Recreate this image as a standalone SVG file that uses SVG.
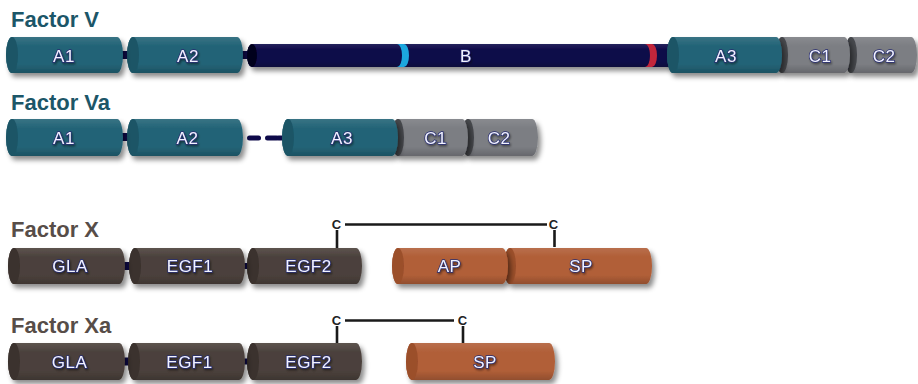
<svg xmlns="http://www.w3.org/2000/svg" width="918" height="384" viewBox="0 0 918 384">
  <defs>
    <filter id="drop" x="-10%" y="-30%" width="125%" height="170%">
      <feDropShadow dx="3" dy="4" stdDeviation="2.5" flood-color="#000" flood-opacity="0.45"/>
    </filter>
    <filter id="glow" x="-20%" y="-40%" width="140%" height="180%">
      <feDropShadow dx="1" dy="1.5" stdDeviation="1.2" flood-color="#000" flood-opacity="0.5"/>
    </filter>
    <linearGradient id="shade" x1="0" y1="0" x2="0" y2="1">
      <stop offset="0" stop-color="#fff" stop-opacity="0.10"/>
      <stop offset="0.25" stop-color="#fff" stop-opacity="0"/>
      <stop offset="0.75" stop-color="#000" stop-opacity="0"/>
      <stop offset="1" stop-color="#000" stop-opacity="0.18"/>
    </linearGradient>
  </defs>
  <style>
    .title { font-family: "Liberation Sans", Arial, sans-serif; font-weight: bold; font-size: 22px; }
    .tv { fill: #1c5668; }
    .tx { fill: #574d48; }
    .lbl { font-family: "Liberation Sans", Arial, sans-serif; font-size: 17px; letter-spacing: 0.5px; fill: #f2f3ff; stroke: #262c72; stroke-width: 1.4px; paint-order: stroke; text-anchor: middle; filter: url(#glow); }
    .cys { font-family: "Liberation Sans", Arial, sans-serif; font-weight: bold; font-size: 13px; fill: #222; text-anchor: middle; }
    .teal { fill: #236477; }
    .tealcap { fill: #1b5566; }
    .grey { fill: #7c7e83; }
    .greycap { fill: #46484d; }
    .brown { fill: #4b413c; }
    .browncap { fill: #3a312d; }
    .orange { fill: #b15f38; }
    .orangecap { fill: #9b4f2c; }
    .navy { fill: #0e0a4a; }
    .navycap { fill: #05031f; }
    .sh { fill: url(#shade); }
    .node { filter: url(#drop); }
    .bond { stroke: #1a1a1a; stroke-width: 2.6; fill: none; }
  </style>

  <!-- titles -->
  <text class="title tv" x="11" y="27">Factor V</text>
  <text class="title tv" x="11" y="110">Factor Va</text>
  <text class="title tx" x="11" y="237">Factor X</text>
  <text class="title tx" x="11" y="333">Factor Xa</text>

  <!-- linkers and disulfide bridges -->
  <g id="connectors">
    <rect class="navy" x="119" y="51" width="14" height="8" rx="3"/>
    <rect class="navy" x="240" y="51" width="10" height="8" rx="3"/>
    <rect class="navy" x="119" y="133" width="14" height="8" rx="3"/>
    <rect class="navy" x="247" y="135.5" width="14" height="5" rx="2.5"/>
    <rect class="navy" x="265" y="135.5" width="14" height="5" rx="2.5"/>
    <rect class="navy" x="276" y="135.5" width="8" height="5" rx="2.5"/>
    <rect class="navy" x="122" y="262" width="12" height="8" rx="3"/>
    <rect class="navy" x="242" y="263" width="8" height="6" rx="3"/>
    <rect class="navy" x="502" y="263" width="8" height="6" rx="3"/>
    <rect class="navy" x="122" y="357.5" width="12" height="8" rx="3"/>
    <rect class="navy" x="242" y="358.5" width="8" height="6" rx="3"/>
    <!-- Factor X bridge -->
    <path class="bond" d="M345 224.5 H547 M337 230 V248 M554.5 230 V247"/>
    <text class="cys" x="336.5" y="228.5">C</text>
    <text class="cys" x="553.5" y="228.5">C</text>
    <!-- Factor Xa bridge -->
    <path class="bond" d="M345 320.5 H454 M337 326 V343 M463 326 V343"/>
    <text class="cys" x="336.5" y="325">C</text>
    <text class="cys" x="462.5" y="325">C</text>
  </g>

  <!-- Factor V -->
  <g id="fv-B" class="node">
    <path class="navy" d="M252 44 H670 A5 11.5 0 0 1 670 67 H252 A5 11.5 0 0 1 252 44 Z"/>
    <path class="sh" d="M252 44 H670 A5 11.5 0 0 1 670 67 H252 A5 11.5 0 0 1 252 44 Z"/>
    <ellipse class="navycap" cx="252" cy="55.5" rx="5" ry="11.5"/>
    <path fill="#1fa7de" d="M397 44 H404 A5 11.5 0 0 1 404 67 H397 A5 11.5 0 0 0 397 44 Z"/>
    <path fill="#c2263a" d="M645 44 H652 A5 11.5 0 0 1 652 67 H645 A5 11.5 0 0 0 645 44 Z"/>
    <text class="lbl" x="466" y="62">B</text>
  </g>
  <g id="fv-C2" class="node">
    <path class="grey" d="M851 37 H911 A6 18 0 0 1 911 73 H851 A6 18 0 0 1 851 37 Z"/>
    <path class="sh" d="M851 37 H911 A6 18 0 0 1 911 73 H851 A6 18 0 0 1 851 37 Z"/>
    <ellipse class="greycap" cx="851" cy="55" rx="6" ry="18"/>
    <text class="lbl" x="884" y="62">C2</text>
  </g>
  <g id="fv-C1" class="node">
    <path class="grey" d="M782 37 H844 A6 18 0 0 1 844 73 H782 A6 18 0 0 1 782 37 Z"/>
    <path class="sh" d="M782 37 H844 A6 18 0 0 1 844 73 H782 A6 18 0 0 1 782 37 Z"/>
    <ellipse class="greycap" cx="782" cy="55" rx="6" ry="18"/>
    <text class="lbl" x="820" y="62">C1</text>
  </g>
  <g id="fv-A3" class="node">
    <path class="teal" d="M673 37 H776 A6 18 0 0 1 776 73 H673 A6 18 0 0 1 673 37 Z"/>
    <path class="sh" d="M673 37 H776 A6 18 0 0 1 776 73 H673 A6 18 0 0 1 673 37 Z"/>
    <ellipse class="tealcap" cx="673" cy="55" rx="6" ry="18"/>
    <text class="lbl" x="726" y="62">A3</text>
  </g>
  <g id="fv-A2" class="node">
    <path class="teal" d="M133 37 H237 A6 18 0 0 1 237 73 H133 A6 18 0 0 1 133 37 Z"/>
    <path class="sh" d="M133 37 H237 A6 18 0 0 1 237 73 H133 A6 18 0 0 1 133 37 Z"/>
    <ellipse class="tealcap" cx="133" cy="55" rx="6" ry="18"/>
    <text class="lbl" x="188" y="62">A2</text>
  </g>
  <g id="fv-A1" class="node">
    <path class="teal" d="M12 37 H117 A6 18 0 0 1 117 73 H12 A6 18 0 0 1 12 37 Z"/>
    <path class="sh" d="M12 37 H117 A6 18 0 0 1 117 73 H12 A6 18 0 0 1 12 37 Z"/>
    <ellipse class="tealcap" cx="12" cy="55" rx="6" ry="18"/>
    <text class="lbl" x="64" y="62">A1</text>
  </g>

  <!-- Factor Va -->
  <g id="fva-C2" class="node">
    <path class="grey" d="M468 119 H532 A6 18.5 0 0 1 532 156 H468 A6 18.5 0 0 1 468 119 Z"/>
    <path class="sh" d="M468 119 H532 A6 18.5 0 0 1 532 156 H468 A6 18.5 0 0 1 468 119 Z"/>
    <ellipse class="greycap" cx="468" cy="137.5" rx="6" ry="18.5"/>
    <text class="lbl" x="499" y="144">C2</text>
  </g>
  <g id="fva-C1" class="node">
    <path class="grey" d="M398 119 H462 A6 18.5 0 0 1 462 156 H398 A6 18.5 0 0 1 398 119 Z"/>
    <path class="sh" d="M398 119 H462 A6 18.5 0 0 1 462 156 H398 A6 18.5 0 0 1 398 119 Z"/>
    <ellipse class="greycap" cx="398" cy="137.5" rx="6" ry="18.5"/>
    <text class="lbl" x="435.5" y="144">C1</text>
  </g>
  <g id="fva-A3" class="node">
    <path class="teal" d="M288 119 H392 A6 18.5 0 0 1 392 156 H288 A6 18.5 0 0 1 288 119 Z"/>
    <path class="sh" d="M288 119 H392 A6 18.5 0 0 1 392 156 H288 A6 18.5 0 0 1 288 119 Z"/>
    <ellipse class="tealcap" cx="288" cy="137.5" rx="6" ry="18.5"/>
    <text class="lbl" x="342" y="144">A3</text>
  </g>
  <g id="fva-A2" class="node">
    <path class="teal" d="M133 119 H237 A6 18.5 0 0 1 237 156 H133 A6 18.5 0 0 1 133 119 Z"/>
    <path class="sh" d="M133 119 H237 A6 18.5 0 0 1 237 156 H133 A6 18.5 0 0 1 133 119 Z"/>
    <ellipse class="tealcap" cx="133" cy="137.5" rx="6" ry="18.5"/>
    <text class="lbl" x="187.5" y="144">A2</text>
  </g>
  <g id="fva-A1" class="node">
    <path class="teal" d="M12 119 H117 A6 18.5 0 0 1 117 156 H12 A6 18.5 0 0 1 12 119 Z"/>
    <path class="sh" d="M12 119 H117 A6 18.5 0 0 1 117 156 H12 A6 18.5 0 0 1 12 119 Z"/>
    <ellipse class="tealcap" cx="12" cy="137.5" rx="6" ry="18.5"/>
    <text class="lbl" x="64" y="144">A1</text>
  </g>

  <!-- Factor X -->
  <g id="fx-SP" class="node">
    <path class="orange" d="M510 248 H646 A6 18 0 0 1 646 284 H510 A6 18 0 0 1 510 248 Z"/>
    <path class="sh" d="M510 248 H646 A6 18 0 0 1 646 284 H510 A6 18 0 0 1 510 248 Z"/>
    <ellipse class="orangecap" cx="510" cy="266" rx="6" ry="18"/>
    <text class="lbl" x="581" y="272">SP</text>
  </g>
  <g id="fx-AP" class="node">
    <path class="orange" d="M398 248 H502 A6 18 0 0 1 502 284 H398 A6 18 0 0 1 398 248 Z"/>
    <path class="sh" d="M398 248 H502 A6 18 0 0 1 502 284 H398 A6 18 0 0 1 398 248 Z"/>
    <ellipse class="orangecap" cx="398" cy="266" rx="6" ry="18"/>
    <text class="lbl" x="449.5" y="272">AP</text>
  </g>
  <g id="fx-EGF2" class="node">
    <path class="brown" d="M253 248 H356 A6 18 0 0 1 356 284 H253 A6 18 0 0 1 253 248 Z"/>
    <path class="sh" d="M253 248 H356 A6 18 0 0 1 356 284 H253 A6 18 0 0 1 253 248 Z"/>
    <ellipse class="browncap" cx="253" cy="266" rx="6" ry="18"/>
    <text class="lbl" x="308.5" y="272">EGF2</text>
  </g>
  <g id="fx-EGF1" class="node">
    <path class="brown" d="M135 248 H239 A6 18 0 0 1 239 284 H135 A6 18 0 0 1 135 248 Z"/>
    <path class="sh" d="M135 248 H239 A6 18 0 0 1 239 284 H135 A6 18 0 0 1 135 248 Z"/>
    <ellipse class="browncap" cx="135" cy="266" rx="6" ry="18"/>
    <text class="lbl" x="190" y="272">EGF1</text>
  </g>
  <g id="fx-GLA" class="node">
    <path class="brown" d="M14 248 H119 A6 18 0 0 1 119 284 H14 A6 18 0 0 1 14 248 Z"/>
    <path class="sh" d="M14 248 H119 A6 18 0 0 1 119 284 H14 A6 18 0 0 1 14 248 Z"/>
    <ellipse class="browncap" cx="14" cy="266" rx="6" ry="18"/>
    <text class="lbl" x="70" y="272">GLA</text>
  </g>

  <!-- Factor Xa -->
  <g id="fxa-SP" class="node">
    <path class="orange" d="M412 343 H549 A6 18.5 0 0 1 549 380 H412 A6 18.5 0 0 1 412 343 Z"/>
    <path class="sh" d="M412 343 H549 A6 18.5 0 0 1 549 380 H412 A6 18.5 0 0 1 412 343 Z"/>
    <ellipse class="orangecap" cx="412" cy="361.5" rx="6" ry="18.5"/>
    <text class="lbl" x="485" y="368">SP</text>
  </g>
  <g id="fxa-EGF2" class="node">
    <path class="brown" d="M253 343 H356 A6 18.5 0 0 1 356 380 H253 A6 18.5 0 0 1 253 343 Z"/>
    <path class="sh" d="M253 343 H356 A6 18.5 0 0 1 356 380 H253 A6 18.5 0 0 1 253 343 Z"/>
    <ellipse class="browncap" cx="253" cy="361.5" rx="6" ry="18.5"/>
    <text class="lbl" x="308.5" y="368">EGF2</text>
  </g>
  <g id="fxa-EGF1" class="node">
    <path class="brown" d="M134 343 H239 A6 18.5 0 0 1 239 380 H134 A6 18.5 0 0 1 134 343 Z"/>
    <path class="sh" d="M134 343 H239 A6 18.5 0 0 1 239 380 H134 A6 18.5 0 0 1 134 343 Z"/>
    <ellipse class="browncap" cx="134" cy="361.5" rx="6" ry="18.5"/>
    <text class="lbl" x="189.5" y="368">EGF1</text>
  </g>
  <g id="fxa-GLA" class="node">
    <path class="brown" d="M14 343 H119 A6 18.5 0 0 1 119 380 H14 A6 18.5 0 0 1 14 343 Z"/>
    <path class="sh" d="M14 343 H119 A6 18.5 0 0 1 119 380 H14 A6 18.5 0 0 1 14 343 Z"/>
    <ellipse class="browncap" cx="14" cy="361.5" rx="6" ry="18.5"/>
    <text class="lbl" x="69.5" y="368">GLA</text>
  </g>
</svg>
